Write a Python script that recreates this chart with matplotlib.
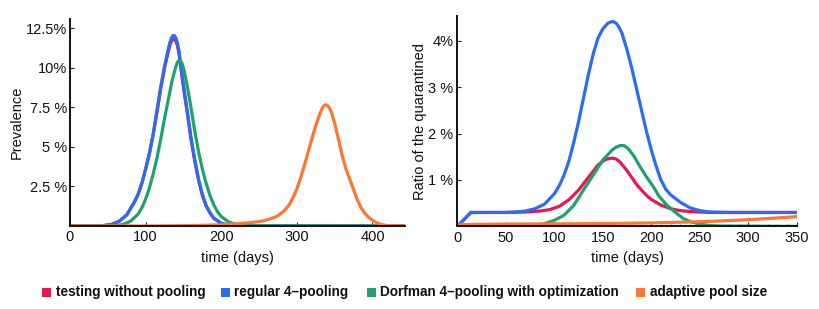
import matplotlib
matplotlib.use("Agg")
import matplotlib.pyplot as plt
from matplotlib.patches import Rectangle

# colours
RED = "#E8184C"
BLUE = "#2A6CF2"
GREEN = "#1FA36E"
ORANGE = "#FF7631"

series_names = ["testing without pooling", "regular 4\u2013pooling",
                "Dorfman 4\u2013pooling with optimization", "adaptive pool size"]

# ---- left panel: prevalence (%) ----
prev_red_x = [0, 30, 45, 55, 65, 75, 85, 90, 95, 100, 105, 110, 115, 120, 125, 130, 132, 134, 136, 138, 140,
              142, 144, 147, 151, 155, 160, 165, 170, 175, 180, 185, 190, 200, 210, 220, 443]
prev_red_y = [0, 0, 0.03, 0.1, 0.3, 0.7, 1.5, 2.0, 2.7, 3.6, 4.6, 5.8, 7.2, 8.7, 10.0, 11.05, 11.42, 11.68, 11.83, 11.84, 11.7,
              11.42, 10.95, 9.85, 8.45, 7.2, 5.5, 4.1, 2.9, 1.95, 1.28, 0.83, 0.49, 0.17, 0.05, 0.01, 0]
prev_blue_x = [0, 30, 45, 55, 65, 75, 85, 90, 95, 100, 105, 110, 115, 120, 125, 130, 132, 134, 136, 138, 140,
               142, 144, 147, 151, 155, 160, 165, 170, 175, 180, 185, 190, 200, 210, 220, 443]
prev_blue_y = [0, 0, 0.03, 0.1, 0.3, 0.7, 1.5, 2.0, 2.7, 3.6, 4.6, 5.8, 7.3, 8.8, 10.1, 11.2, 11.6, 11.88, 12.04, 12.05, 11.9,
               11.6, 11.1, 10.0, 8.6, 7.3, 5.6, 4.2, 2.95, 2.0, 1.3, 0.85, 0.5, 0.17, 0.05, 0.01, 0]
prev_green_x = [0, 50, 60, 70, 80, 90, 95, 100, 105, 110, 115, 120, 125, 130, 135, 140, 142, 144, 146, 148, 150,
                152, 156, 160, 165, 170, 175, 180, 185, 190, 195, 200, 210, 220, 230, 240, 443]
prev_green_y = [0, 0, 0.03, 0.1, 0.3, 0.75, 1.15, 1.7, 2.4, 3.3, 4.3, 5.5, 6.8, 8.0, 9.2, 10.1, 10.35, 10.47, 10.45, 10.3, 10.0,
                9.6, 8.6, 7.5, 6.0, 4.7, 3.6, 2.7, 1.95, 1.35, 0.9, 0.6, 0.25, 0.1, 0.03, 0.01, 0]
prev_orange_x = [0, 100, 150, 180, 200, 220, 240, 255, 265, 275, 283, 290, 295, 300, 305, 310, 315, 320,
                 325, 330, 334, 336, 338, 340, 342, 344, 346, 350, 355, 360, 365, 370, 375, 380, 385, 390,
                 395, 400, 405, 410, 415, 420, 443]
prev_orange_y = [0, 0, 0.02, 0.05, 0.08, 0.14, 0.22, 0.32, 0.45, 0.65, 0.95, 1.35, 1.8, 2.35, 3.05, 3.85, 4.7, 5.55,
                 6.35, 7.05, 7.5, 7.62, 7.67, 7.64, 7.55, 7.38, 7.15, 6.5, 5.5, 4.45, 3.6, 2.95, 2.3, 1.65, 1.15, 0.8,
                 0.55, 0.37, 0.22, 0.12, 0.06, 0.02, 0]

# ---- right panel: ratio of the quarantined (%) ----
quar_red_x = [0, 14, 50, 70, 85, 95, 105, 115, 125, 135, 145, 152, 156, 160, 164, 168, 175, 180, 185, 190,
              195, 200, 210, 220, 230, 240, 260, 350]
quar_red_y = [0, 0.3, 0.3, 0.31, 0.33, 0.36, 0.43, 0.57, 0.78, 1.05, 1.32, 1.43, 1.46, 1.47, 1.45, 1.38, 1.2, 1.05, 0.9, 0.78,
              0.67, 0.58, 0.46, 0.38, 0.34, 0.32, 0.3, 0.3]
quar_blue_x = [0, 14, 30, 50, 60, 70, 80, 90, 100, 105, 110, 115, 120, 125, 130, 135, 140, 145, 150, 155,
               158, 161, 164, 167, 170, 175, 180, 185, 190, 195, 200, 205, 210, 215, 220, 225, 230, 240, 250,
               260, 280, 350]
quar_blue_y = [0, 0.3, 0.3, 0.3, 0.31, 0.33, 0.38, 0.48, 0.7, 0.87, 1.1, 1.4, 1.8, 2.25, 2.75, 3.25, 3.7, 4.05, 4.25, 4.37,
               4.4, 4.41, 4.37, 4.28, 4.15, 3.8, 3.4, 2.95, 2.5, 2.05, 1.65, 1.3, 1.0, 0.8, 0.68, 0.6, 0.52, 0.4, 0.34,
               0.31, 0.3, 0.3]
quar_green_x = [0, 5, 80, 90, 100, 110, 120, 130, 140, 150, 160, 164, 168, 172, 176, 182, 188, 195, 202, 208,
                216, 225, 233, 242, 250, 260, 270, 350]
quar_green_y = [0, 0.02, 0.02, 0.06, 0.13, 0.24, 0.45, 0.78, 1.1, 1.43, 1.65, 1.71, 1.74, 1.74, 1.68, 1.52, 1.3, 1.07, 0.86, 0.65,
                0.46, 0.3, 0.17, 0.09, 0.05, 0.02, 0.01, 0]
quar_orange_x = [0, 3, 50, 100, 150, 200, 250, 280, 300, 325, 350]
quar_orange_y = [0, 0.04, 0.05, 0.055, 0.06, 0.075, 0.1, 0.125, 0.145, 0.175, 0.21]

left_xticks = [0, 100, 200, 300, 400]
left_yticks = [2.5, 5, 7.5, 10, 12.5]
left_yticklabels = ["2.5 %", "5 %", "7.5 %", "10%", "12.5%"]
right_xticks = [0, 50, 100, 150, 200, 250, 300, 350]
right_yticks = [1, 2, 3, 4]
right_yticklabels = ["1 %", "2 %", "3 %", "4%"]

plt.rcParams["font.family"] = ["Liberation Sans", "DejaVu Sans"]

W, H = 819, 309
fig = plt.figure(figsize=(W / 100, H / 100), dpi=100)

axL = fig.add_axes([70 / W, 1 - 226 / H, 335 / W, 207 / H])
axR = fig.add_axes([457.3 / W, 1 - 226.4 / H, 339.4 / W, 210.4 / H])

lw = 2.3
axL.plot(prev_red_x, prev_red_y, color=RED, lw=lw)
axL.plot(prev_blue_x, prev_blue_y, color=BLUE, lw=lw)
axL.plot(prev_green_x, prev_green_y, color=GREEN, lw=lw)
axL.plot(prev_orange_x, prev_orange_y, color=ORANGE, lw=lw)

axR.plot(quar_red_x, quar_red_y, color=RED, lw=lw)
axR.plot(quar_blue_x, quar_blue_y, color=BLUE, lw=lw)
axR.plot(quar_green_x, quar_green_y, color=GREEN, lw=lw)
axR.plot(quar_orange_x, quar_orange_y, color=ORANGE, lw=lw)

axL.set_xlim(0, 443)
axL.set_ylim(0, 13.1)
axR.set_xlim(0, 350)
axR.set_ylim(0, 4.53)

axL.set_xticks(left_xticks)
axL.set_xticks(range(0, 441, 20), minor=True)
axL.set_yticks(left_yticks)
axL.set_yticklabels(left_yticklabels)
axR.set_xticks(right_xticks)
axR.set_xticks(range(0, 351, 10), minor=True)
axR.set_yticks(right_yticks)
axR.set_yticklabels(right_yticklabels)

for ax in (axL, axR):
    for s in ("top", "right"):
        ax.spines[s].set_visible(False)
    for s in ("left", "bottom"):
        ax.spines[s].set_linewidth(1.4)
        ax.spines[s].set_color("#111111")
    ax.tick_params(which="major", direction="in", length=3, width=0.8, labelsize=10.5, pad=3,
                   colors="#222222", labelcolor="#111111")
    ax.tick_params(which="minor", direction="in", length=1.8, width=0.6, colors="#444444")
    ax.set_xlabel("time (days)", fontsize=10.5, color="#111111")

axL.xaxis.set_label_coords(0.5, -0.12)
axR.xaxis.set_label_coords(0.5, -0.117)
axL.tick_params(axis="y", pad=2)
axL.set_ylabel("Prevalence", fontsize=10.5, color="#111111")
axL.yaxis.set_label_coords(-0.137, 0.5)
axR.set_ylabel("Ratio of the quarantined", fontsize=10.5, color="#111111")
axR.yaxis.set_label_coords(-0.089, 0.5)

# legend row along the bottom
sq_x = [42, 221, 367, 636]
txt_x = [56, 234, 380, 650]
colors = [RED, BLUE, GREEN, ORANGE]
for name, c, sx, tx in zip(series_names, colors, sq_x, txt_x):
    fig.patches.append(Rectangle((sx / W, 1 - 297 / H), 9 / W, 9 / H, transform=fig.transFigure,
                                 facecolor=c, edgecolor="none"))
    fig.text(tx / W, 1 - 292 / H, name, fontsize=9.8, fontweight="bold", va="center", ha="left",
             color="#111111")

fig.savefig("out.png", dpi=100)
